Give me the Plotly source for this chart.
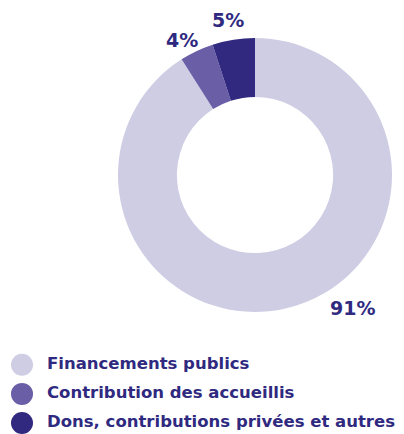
import plotly.graph_objects as go

# Data
categories = ["Financements publics", "Contribution des accueillis",
              "Dons, contributions privées et autres"]
shares = [91, 4, 5]
colors = ["#CFCDE4", "#6A5FA6", "#31287F"]
text_color = "#2F2A80"
font_family = "DejaVu Sans"

# page body has an 8px margin, so pixel targets are shifted by -8
off = 8

fig = go.Figure()

# Donut
fig.add_trace(go.Pie(
    labels=categories,
    values=shares,
    hole=0.57,
    sort=False,
    direction="clockwise",
    rotation=0,
    marker=dict(colors=colors, line=dict(width=0)),
    textinfo="none",
    hoverinfo="label+percent",
    showlegend=False,
    domain=dict(x=[(118 - off) / 404, (392 - off) / 404],
                y=[1 - (312 - off) / 434, 1 - (38 - off) / 434]),
))

# Percent labels placed around the ring
label_pos = [(352, 308), (182, 40), (228, 20)]
for s, (px, py) in zip(shares, label_pos):
    fig.add_annotation(
        x=(px - off) / 404, y=1 - (py - off) / 434, xref="paper", yref="paper",
        xanchor="center", yanchor="middle",
        text=f"{s}%", showarrow=False,
        font=dict(size=19, color=text_color, family=font_family, weight=600),
    )

# Custom legend with round markers
idx = list(range(len(categories)))
fig.add_trace(go.Scatter(
    x=[22 - off] * len(categories), y=idx, mode="markers",
    marker=dict(size=22, color=colors, line=dict(width=0)),
    hoverinfo="skip", showlegend=False,
))
fig.add_trace(go.Scatter(
    x=[47 - off] * len(categories), y=idx, mode="text",
    text=categories, textposition="middle right",
    textfont=dict(size=16.5, color=text_color, family=font_family, weight=600),
    hoverinfo="skip", showlegend=False,
))

fig.update_layout(
    width=404, height=434,
    margin=dict(l=0, r=0, t=0, b=0),
    paper_bgcolor="white", plot_bgcolor="white",
    xaxis=dict(range=[0, 404], domain=[0, 1], visible=False, fixedrange=True),
    yaxis=dict(range=[2.65, -1.07], domain=[0, 0.25], visible=False, fixedrange=True),
)

fig.write_html("out.html")
